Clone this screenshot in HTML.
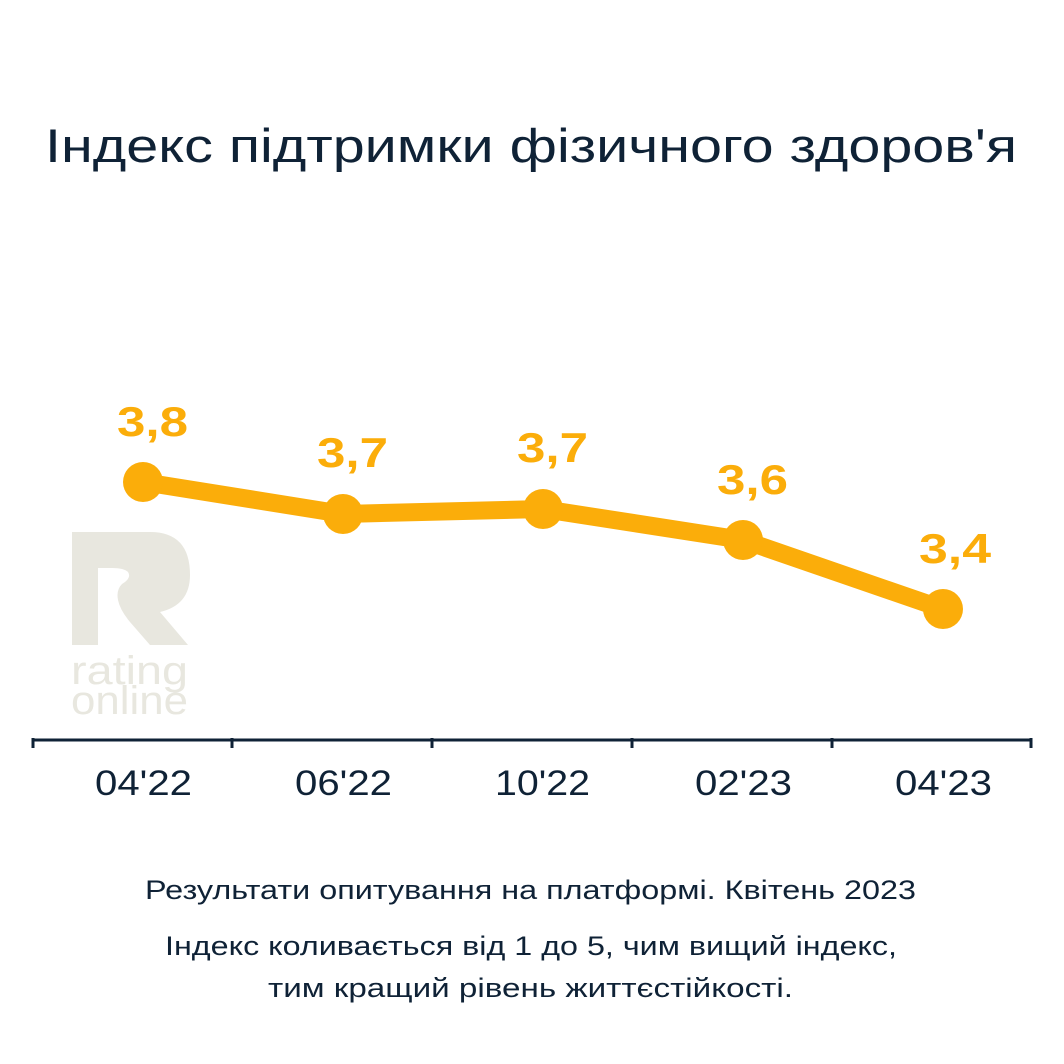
<!DOCTYPE html>
<html><head><meta charset="utf-8"><style>
body{margin:0;background:#fff;}
svg{display:block;}
</style></head><body>
<svg width="1064" height="1064" xmlns="http://www.w3.org/2000/svg">
<rect width="1064" height="1064" fill="#fff"/>
<text x="45" y="162" textLength="972" lengthAdjust="spacingAndGlyphs" font-family="Liberation Sans, sans-serif" font-size="47" fill="#0f2236">Індекс підтримки фізичного здоров'я</text>
<g fill="#e8e7df">
<path d="M72 532 H150 Q190 532 190 575 Q190 605 160 612 L188 645 H150 L130 622 Q120 610 118 600 Q116 590 122 584 Q132 578 128 572 Q124 568 112 568 H98 V645 H72 Z"/>
<text x="71" y="684" textLength="117" lengthAdjust="spacingAndGlyphs" font-family="Liberation Sans, sans-serif" font-size="40">rating</text>
<text x="71" y="714" textLength="117" lengthAdjust="spacingAndGlyphs" font-family="Liberation Sans, sans-serif" font-size="40">online</text>
</g>
<g stroke="#0f2236" stroke-width="3" fill="none">
<line x1="32" y1="740" x2="1032" y2="740"/>
<line x1="33" y1="738" x2="33" y2="748"/>
<line x1="232" y1="738" x2="232" y2="748"/>
<line x1="432" y1="738" x2="432" y2="748"/>
<line x1="632" y1="738" x2="632" y2="748"/>
<line x1="832" y1="738" x2="832" y2="748"/>
<line x1="1031" y1="738" x2="1031" y2="748"/>
</g>
<g font-family="Liberation Sans, sans-serif" font-size="35" fill="#0f2236">
<text x="95" y="795" textLength="97" lengthAdjust="spacingAndGlyphs">04'22</text>
<text x="295" y="795" textLength="97" lengthAdjust="spacingAndGlyphs">06'22</text>
<text x="495" y="795" textLength="95" lengthAdjust="spacingAndGlyphs">10'22</text>
<text x="695" y="795" textLength="97" lengthAdjust="spacingAndGlyphs">02'23</text>
<text x="895" y="795" textLength="97" lengthAdjust="spacingAndGlyphs">04'23</text>
</g>
<polyline points="143,482 343,514 543,509 743,540 943,609" fill="none" stroke="#fbad0a" stroke-width="18" stroke-linejoin="round"/>
<g fill="#fbad0a">
<circle cx="143" cy="482" r="20"/><circle cx="343" cy="514" r="20"/><circle cx="543" cy="509" r="20"/><circle cx="743" cy="540" r="20"/><circle cx="943" cy="609" r="20"/>
</g>
<g font-family="Liberation Sans, sans-serif" font-size="42" font-weight="bold" fill="#fbad0a">
<text x="117" y="436" textLength="71" lengthAdjust="spacingAndGlyphs">3,8</text>
<text x="317" y="467" textLength="71" lengthAdjust="spacingAndGlyphs">3,7</text>
<text x="517" y="462" textLength="71" lengthAdjust="spacingAndGlyphs">3,7</text>
<text x="717" y="494" textLength="71" lengthAdjust="spacingAndGlyphs">3,6</text>
<text x="919" y="563" textLength="72" lengthAdjust="spacingAndGlyphs">3,4</text>
</g>
<g font-family="Liberation Sans, sans-serif" font-size="27" fill="#0f2236">
<text x="145" y="899" textLength="771" lengthAdjust="spacingAndGlyphs">Результати опитування на платформі. Квітень 2023</text>
<text x="165" y="955" textLength="732" lengthAdjust="spacingAndGlyphs">Індекс коливається від 1 до 5, чим вищий індекс,</text>
<text x="268" y="997" textLength="525" lengthAdjust="spacingAndGlyphs">тим кращий рівень життєстійкості.</text>
</g>
</svg>
</body></html>
